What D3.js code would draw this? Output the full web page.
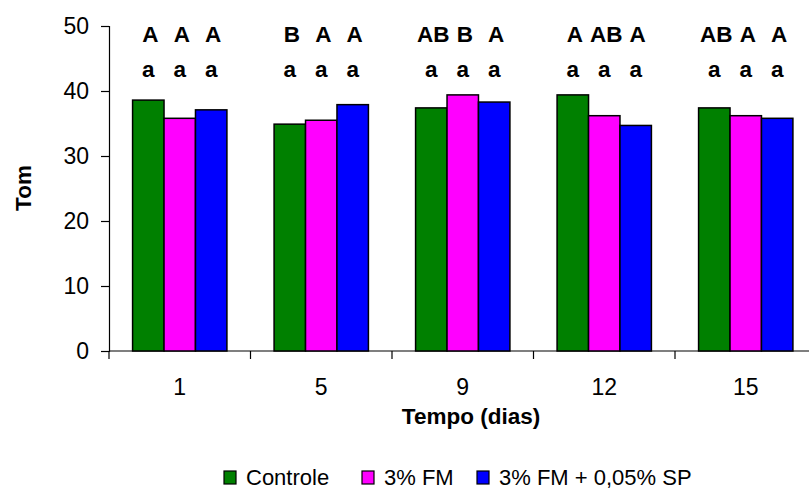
<!DOCTYPE html>
<html>
<head>
<meta charset="utf-8">
<script src="https://cdn.jsdelivr.net/npm/d3@7/dist/d3.min.js"></script>
<style>
  html, body { margin: 0; padding: 0; background: #fff; }
  svg { display: block; }
  text { font-family: Arial, "Liberation Sans", sans-serif; fill: #000; }
</style>
</head>
<body>
<svg id="chart" width="809" height="491"></svg>
<script>
// Tom over storage time (days) for three formulations
const days = ["1", "5", "9", "12", "15"];
const seriesNames = ["Controle", "3% FM", "3% FM + 0,05% SP"];
const seriesColors = ["#008000", "#FF00FF", "#0000FF"];
const controle = [38.6, 34.9, 37.4, 39.4, 37.4];
const fm3 = [35.8, 35.5, 39.4, 36.2, 36.2];
const fm3sp = [37.1, 37.9, 38.3, 34.7, 35.8];
// significance letters per day (upper = between times, lower = between treatments)
const upperLetters = [
  ["A", "A", "A"],
  ["B", "A", "A"],
  ["AB", "B", "A"],
  ["A", "AB", "A"],
  ["AB", "A", "A"]
];
const lowerLetters = [
  ["a", "a", "a"],
  ["a", "a", "a"],
  ["a", "a", "a"],
  ["a", "a", "a"],
  ["a", "a", "a"]
];
const yTicks = [0, 10, 20, 30, 40, 50];

const values = [controle, fm3, fm3sp];
const rows = days.map((d, i) => ({
  day: d,
  bars: seriesNames.map((s, j) => ({
    series: s, color: seriesColors[j], value: values[j][i],
    upper: upperLetters[i][j], lower: lowerLetters[i][j]
  }))
}));

const svg = d3.select("#chart");
const plotLeft = 109, plotRight = 816.5, plotTop = 26, plotBottom = 351;

const x0 = d3.scaleBand().domain(days).range([plotLeft, plotRight]).padding(0);
const x1 = d3.scaleBand().domain(seriesNames).range([0, x0.bandwidth()])
  .paddingInner(0).paddingOuter(0.75);
const y = d3.scaleLinear().domain([0, 50]).range([plotBottom, plotTop]);

const fontSize = 23;
const boldSize = 22.5;

// y axis
const yAxis = svg.append("g")
  .attr("transform", `translate(${plotLeft},0)`)
  .call(d3.axisLeft(y).tickValues(yTicks).tickSize(8).tickPadding(12));
yAxis.select(".domain").attr("stroke", "#000").attr("stroke-width", 1.2);
yAxis.selectAll(".tick line").attr("stroke", "#000").attr("stroke-width", 1.2);
yAxis.selectAll(".tick text").attr("font-size", fontSize)
  .attr("font-family", "Arial, 'Liberation Sans', sans-serif");

// x axis: line with ticks between categories
const xg = svg.append("g");
xg.append("line")
  .attr("x1", plotLeft).attr("x2", plotRight).attr("y1", plotBottom).attr("y2", plotBottom)
  .attr("stroke", "#000").attr("stroke-width", 1.2);
const boundaries = days.map(d => x0(d)).concat([plotRight]);
xg.selectAll("line.tk").data(boundaries).join("line").attr("class", "tk")
  .attr("x1", d => d).attr("x2", d => d)
  .attr("y1", plotBottom).attr("y2", plotBottom + 8)
  .attr("stroke", "#000").attr("stroke-width", 1.2);
xg.selectAll("text.cat").data(days).join("text").attr("class", "cat")
  .attr("x", d => x0(d) + x0.bandwidth() / 2)
  .attr("y", 395)
  .attr("text-anchor", "middle")
  .attr("font-size", fontSize)
  .text(d => d);

// bars
const groups = svg.selectAll("g.grp").data(rows).join("g").attr("class", "grp")
  .attr("transform", d => `translate(${x0(d.day)},0)`);
groups.selectAll("rect").data(d => d.bars).join("rect")
  .attr("x", d => x1(d.series))
  .attr("y", d => y(d.value))
  .attr("width", x1.bandwidth())
  .attr("height", d => y(0) - y(d.value))
  .attr("fill", d => d.color)
  .attr("stroke", "#000")
  .attr("stroke-width", 1.5);

// significance letters
groups.selectAll("text.up").data(d => d.bars).join("text").attr("class", "up")
  .attr("x", d => x1(d.series) + x1.bandwidth() / 2 + 2)
  .attr("y", 42)
  .attr("text-anchor", "middle")
  .attr("font-size", boldSize).attr("font-weight", "bold")
  .text(d => d.upper);
groups.selectAll("text.lo").data(d => d.bars).join("text").attr("class", "lo")
  .attr("x", d => x1(d.series) + x1.bandwidth() / 2)
  .attr("y", 77)
  .attr("text-anchor", "middle")
  .attr("font-size", boldSize).attr("font-weight", "bold")
  .text(d => d.lower);

// axis titles
svg.append("text")
  .attr("x", 471).attr("y", 424)
  .attr("text-anchor", "middle")
  .attr("font-size", boldSize).attr("font-weight", "bold")
  .text("Tempo (dias)");
svg.append("text")
  .attr("transform", "translate(31,188) rotate(-90)")
  .attr("text-anchor", "middle")
  .attr("font-size", boldSize).attr("font-weight", "bold")
  .text("Tom");

// legend
const legendX = [224, 362, 477];
const lg = svg.selectAll("g.leg").data(seriesNames).join("g").attr("class", "leg")
  .attr("transform", (d, i) => `translate(${legendX[i]},471)`);
lg.append("rect")
  .attr("width", 12).attr("height", 13)
  .attr("fill", (d, i) => seriesColors[i])
  .attr("stroke", "#000").attr("stroke-width", 1.2);
lg.append("text")
  .attr("x", 22).attr("y", 14)
  .attr("font-size", 22)
  .text(d => d);
</script>
</body>
</html>
